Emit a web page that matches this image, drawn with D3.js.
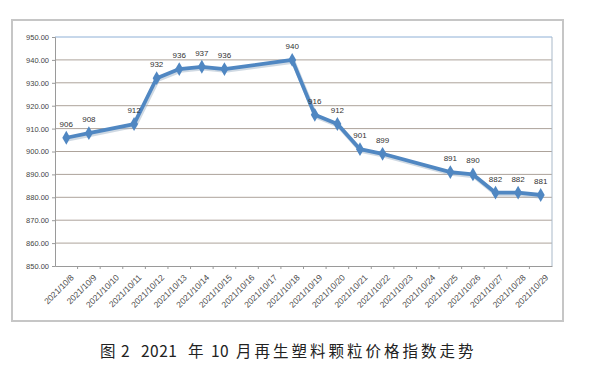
<!DOCTYPE html>
<html><head><meta charset="utf-8">
<script src="https://cdn.jsdelivr.net/npm/d3@7"></script>
<style>body{margin:0;background:#fff}svg{display:block}</style>
</head><body><svg id="c" width="591" height="378"></svg>
<script>
const categories = ["2021/10/8","2021/10/9","2021/10/10","2021/10/11","2021/10/12","2021/10/13","2021/10/14","2021/10/15","2021/10/16","2021/10/17","2021/10/18","2021/10/19","2021/10/20","2021/10/21","2021/10/22","2021/10/23","2021/10/24","2021/10/25","2021/10/26","2021/10/27","2021/10/28","2021/10/29"];
const pointDates = ["2021/10/8","2021/10/9","2021/10/11","2021/10/12","2021/10/13","2021/10/14","2021/10/15","2021/10/18","2021/10/19","2021/10/20","2021/10/21","2021/10/22","2021/10/25","2021/10/26","2021/10/27","2021/10/28","2021/10/29"];
const pointValues = [906,908,912,932,936,937,936,940,916,912,901,899,891,890,882,882,881];
const yTicks = [850,860,870,880,890,900,910,920,930,940,950];
const captionParts = ["图", "2", "2021", "年", "10", "月再生塑料颗粒价格指数走势"];

const svg = d3.select("#c");
const L = 55, R = 552, T = 37, B = 266;
const x = d3.scaleBand().domain(categories).range([L, R]);
const y = d3.scaleLinear().domain([850, 950]).range([B, T]);

// outer frame
svg.append("rect").attr("x",12).attr("y",20).attr("width",551).attr("height",301)
  .attr("fill","#fff").attr("stroke","#c6c6c6").attr("stroke-width",2);

// gridlines
svg.append("g").selectAll("line").data(yTicks.filter(d=>d>850)).join("line")
  .attr("x1",L).attr("x2",R).attr("y1",d=>y(d)).attr("y2",d=>y(d))
  .attr("stroke",d=>d===950?"#8fb0d6":"#ada39b").attr("stroke-width",1);
svg.append("line").attr("x1",R).attr("x2",R).attr("y1",T).attr("y2",B).attr("stroke","#a9b9c9");

// y axis
const ya = svg.append("g").attr("transform",`translate(${L},0)`)
  .call(d3.axisLeft(y).tickValues(yTicks).tickFormat(d3.format(".2f")).tickSize(3).tickPadding(3));
ya.select(".domain").attr("stroke","#9a9a9a");
ya.selectAll(".tick line").attr("stroke","#9a9a9a");
ya.selectAll("text").attr("font-family","Liberation Sans, Arial, sans-serif").attr("font-size",7.5).attr("fill","#444");

// x axis
const xa = svg.append("g").attr("transform",`translate(0,${B})`)
  .call(d3.axisBottom(x).tickSize(0).tickPadding(0));
xa.select(".domain").attr("stroke","#9a9a9a");
xa.selectAll(".tick text").attr("font-family","Liberation Sans, Arial, sans-serif").attr("font-size",8.5)
  .attr("fill","#4a4a4a").attr("text-anchor","end").attr("y",0).attr("dy","0.35em")
  .attr("transform","translate(6,10) rotate(-45)");
svg.append("g").selectAll("line").data(categories.slice(1)).join("line")
  .attr("x1",d=>x(d)).attr("x2",d=>x(d)).attr("y1",B).attr("y2",B+3).attr("stroke","#9a9a9a");

// line
const pts = pointDates.map((d,i)=>({d, v: pointValues[i]}));
const cx = d => x(d) + x.bandwidth()/2;
const line = d3.line().x(p=>cx(p.d)).y(p=>y(p.v));
svg.append("path").datum(pts).attr("d",line).attr("fill","none")
  .attr("stroke","#9fb3c8").attr("stroke-width",4.5).attr("transform","translate(1,1.5)").attr("opacity",0.5);
svg.append("path").datum(pts).attr("d",line).attr("fill","none")
  .attr("stroke","#5087c2").attr("stroke-width",3.8).attr("stroke-linejoin","round");
svg.append("g").selectAll("path").data(pts).join("path")
  .attr("d",d3.symbol(d3.symbolDiamond,55)).attr("transform",p=>`translate(${cx(p.d)},${y(p.v)})`)
  .attr("fill","#5087c2");
svg.append("g").selectAll("text").data(pts).join("text")
  .attr("x",p=>cx(p.d)).attr("y",p=>y(p.v)-11).attr("text-anchor","middle")
  .attr("font-family","Liberation Sans, Arial, sans-serif").attr("font-size",8).attr("fill","#333")
  .text(p=>p.v);

// caption
const capX = [100, 121, 141, 188, 211, 236];
const cap = svg.append("text").attr("y",357)
  .attr("font-family","Noto Sans CJK SC, sans-serif").attr("font-size",15.5).attr("fill","#222");
cap.selectAll("tspan").data(captionParts).join("tspan")
  .attr("x",(d,i)=>capX[i]).attr("letter-spacing",(d,i)=>i===5?3:0.5).text(d=>d);
</script></body></html>
